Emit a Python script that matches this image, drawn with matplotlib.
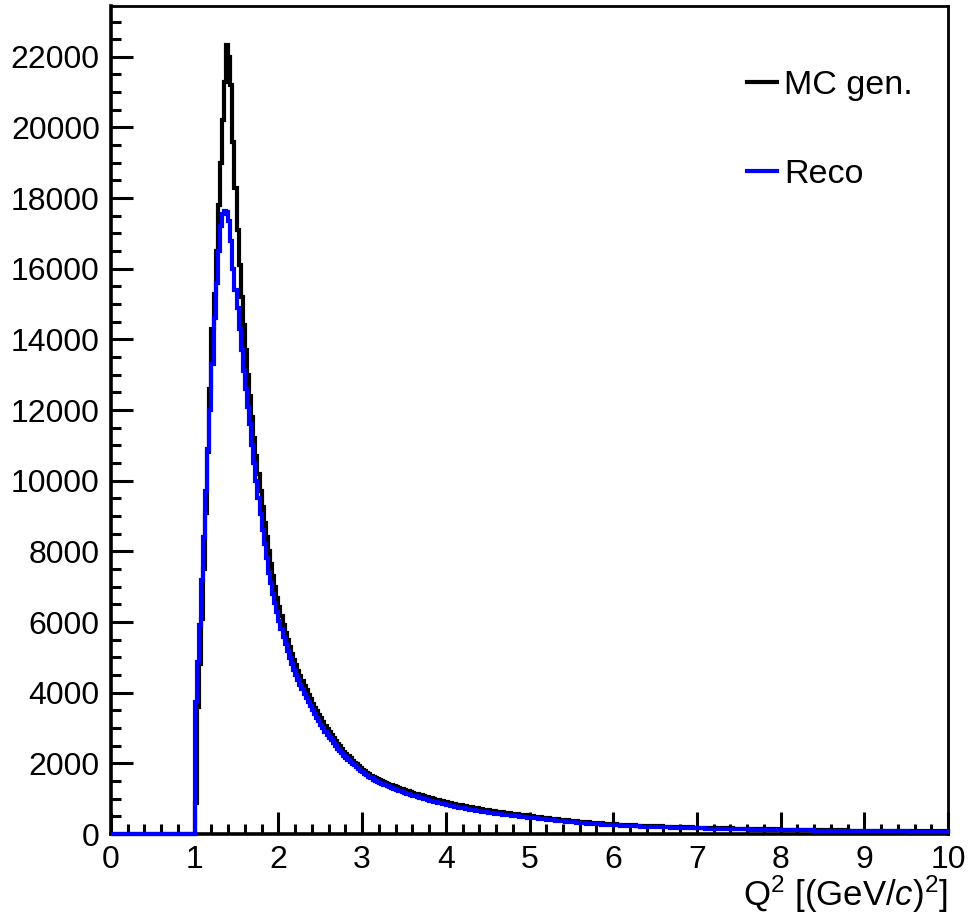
import numpy as np
import matplotlib
matplotlib.use("Agg")
import matplotlib.pyplot as plt
from matplotlib.ticker import MultipleLocator

plt.rcParams["font.family"] = ["Liberation Sans", "DejaVu Sans"]
plt.rcParams["mathtext.fontset"] = "custom"
plt.rcParams["mathtext.rm"] = "Liberation Sans"
plt.rcParams["mathtext.it"] = "Liberation Sans:italic"

# ── Histogram binning: Q2 in [0, 10], 0.025 wide, empty below Q2 = 1 ──
bin_w = 0.025
q2_edges = np.round(np.arange(0.0, 10.0 + bin_w / 2, bin_w), 3)
n_empty = 40                                   # bins with Q2 < 1

# MC generated, Q2 = 1.000 ... 9.975 (rows of 10 bins)
mc_gen = [
    880, 3600, 4800, 6100, 7500, 9100, 10800, 12600, 14300, 15300,
    16500, 17800, 19000, 20200, 21300, 22330, 22000, 21200, 19600, 18300,
    17100, 16100, 15200, 14400, 13700, 13000, 12400, 11800, 11200, 10700,
    10200, 9700, 9250, 8800, 8400, 8000, 7650, 7300, 6980, 6680,
    6420, 6170, 5930, 5700, 5480, 5280, 5100, 4930, 4770, 4620,
    4480, 4340, 4200, 4070, 3940, 3810, 3690, 3580, 3470, 3370,
    3270, 3170, 3070, 2980, 2890, 2800, 2720, 2640, 2560, 2490,
    2400, 2330, 2260, 2200, 2140, 2080, 2020, 1970, 1920, 1870,
    1825, 1780, 1735, 1693, 1653, 1615, 1585, 1556, 1528, 1502,
    1476, 1450, 1424, 1400, 1377, 1354, 1331, 1309, 1287, 1266,
    1245, 1224, 1204, 1184, 1165, 1146, 1128, 1110, 1094, 1080,
    1060, 1042, 1025, 1008, 992, 976, 960, 945, 930, 915,
    900, 885, 871, 857, 844, 831, 819, 807, 796, 785,
    774, 763, 752, 742, 732, 722, 712, 702, 693, 684,
    675, 665, 655, 645, 636, 627, 618, 610, 602, 594,
    584, 576, 568, 560, 553, 546, 539, 532, 525, 518,
    503, 496, 489, 482, 476, 470, 464, 458, 452, 446,
    436, 429, 422, 415, 408, 402, 396, 390, 384, 378,
    368, 363, 358, 353, 347, 342, 337, 332, 327, 323,
    316, 312, 308, 303, 299, 295, 291, 287, 283, 280,
    274, 270, 267, 264, 261, 258, 255, 252, 249, 246,
    243, 240, 238, 236, 234, 231, 229, 227, 225, 223,
    220, 218, 216, 214, 212, 210, 208, 206, 204, 202,
    199, 197, 195, 193, 191, 189, 187, 185, 184, 182,
    179, 177, 176, 174, 172, 171, 169, 168, 166, 165,
    163, 162, 161, 159, 158, 157, 156, 154, 153, 152,
    151, 150, 148, 147, 146, 145, 144, 143, 142, 141,
    140, 139, 138, 137, 136, 135, 134, 133, 132, 131,
    126, 125, 124, 123, 122, 120, 119, 118, 118, 117,
    116, 115, 114, 113, 112, 112, 111, 110, 109, 108,
    108, 107, 106, 105, 105, 104, 103, 102, 102, 101,
    100, 100, 99, 98, 98, 97, 96, 96, 95, 94,
    94, 93, 93, 92, 91, 91, 90, 90, 89, 88,
    88, 87, 87, 86, 86, 85, 85, 84, 84, 83,
    83, 82, 82, 81, 81, 80, 80, 79, 79, 78,
    78, 77, 77, 76, 76, 75, 75, 74, 74, 73,
]

# Reconstructed, same binning
reco = [
    3740, 4880, 5930, 7200, 8400, 9700, 10900, 12000, 13300, 14600,
    15600, 16500, 17200, 17550, 17650, 17600, 17350, 16800, 16000, 15400,
    14900, 14300, 13700, 13100, 12600, 12100, 11600, 11000, 10500, 10000,
    9500, 9050, 8600, 8200, 7800, 7400, 7100, 6800, 6550, 6280,
    6030, 5800, 5580, 5370, 5180, 4990, 4810, 4650, 4500, 4360,
    4230, 4100, 3970, 3850, 3730, 3610, 3500, 3390, 3290, 3190,
    3090, 3000, 2900, 2810, 2730, 2650, 2570, 2490, 2420, 2350,
    2280, 2220, 2160, 2100, 2040, 1990, 1940, 1890, 1840, 1795,
    1750, 1705, 1660, 1618, 1578, 1540, 1510, 1482, 1454, 1427,
    1400, 1374, 1348, 1323, 1299, 1276, 1253, 1230, 1208, 1186,
    1165, 1144, 1124, 1104, 1085, 1066, 1048, 1030, 1015, 1001,
    980, 962, 945, 928, 912, 896, 880, 865, 850, 836,
    822, 808, 795, 782, 770, 758, 746, 734, 723, 712,
    701, 690, 680, 670, 660, 650, 640, 631, 622, 613,
    604, 595, 586, 578, 570, 562, 554, 546, 538, 531,
    524, 517, 510, 503, 496, 489, 482, 475, 469, 463,
    457, 451, 445, 439, 433, 427, 421, 415, 410, 405,
    395, 388, 381, 374, 368, 362, 356, 350, 344, 338,
    332, 327, 322, 317, 312, 307, 302, 297, 293, 289,
    285, 281, 277, 273, 269, 265, 261, 257, 254, 251,
    248, 245, 242, 239, 236, 233, 230, 227, 224, 221,
    218, 216, 214, 211, 209, 207, 205, 203, 201, 199,
    197, 195, 193, 191, 189, 187, 185, 183, 181, 179,
    177, 175, 174, 172, 170, 169, 167, 165, 164, 162,
    161, 159, 158, 156, 155, 153, 152, 150, 149, 148,
    146, 145, 144, 142, 141, 140, 139, 137, 136, 135,
    134, 133, 131, 130, 129, 128, 127, 126, 125, 124,
    123, 122, 121, 120, 119, 118, 117, 116, 115, 114,
    113, 112, 111, 110, 109, 108, 107, 106, 106, 105,
    104, 103, 102, 101, 100, 100, 99, 98, 97, 96,
    96, 95, 94, 93, 93, 92, 91, 90, 90, 89,
    88, 88, 87, 86, 86, 85, 84, 84, 83, 82,
    82, 81, 81, 80, 79, 79, 78, 78, 77, 76,
    76, 75, 75, 74, 74, 73, 73, 72, 72, 71,
    71, 70, 70, 69, 69, 68, 68, 67, 67, 66,
    66, 65, 65, 64, 64, 63, 63, 62, 62, 61,
]

gen_counts = np.concatenate([np.zeros(n_empty), mc_gen])
reco_counts = np.concatenate([np.zeros(n_empty), reco])

# ── Plot ──
fig = plt.figure(figsize=(9.7, 9.18), dpi=100)
ax = fig.add_axes([0.1144, 0.0915, 0.8630, 0.902])

ax.stairs(gen_counts, q2_edges, color="black", linewidth=3.0,
          label="MC gen.", zorder=3, clip_on=False)
ax.stairs(reco_counts, q2_edges, color="#0000ff", linewidth=3.0,
          label="Reco", zorder=4, clip_on=False)

ax.set_xlim(0, 10)
ax.set_ylim(0, 23440)

ax.xaxis.set_major_locator(MultipleLocator(1))
ax.xaxis.set_minor_locator(MultipleLocator(0.2))
ax.yaxis.set_major_locator(MultipleLocator(2000))
ax.yaxis.set_minor_locator(MultipleLocator(500))
ax.tick_params(which="both", direction="in", top=False, right=False,
               width=2.2, labelsize=23, pad=8)
ax.tick_params(which="major", length=16)
ax.tick_params(which="minor", length=7.5)

for side in ["left", "bottom"]:
    ax.spines[side].set_linewidth(2.6)
for side in ["top", "right"]:
    ax.spines[side].set_linewidth(2.0)

ax.set_xlabel(r"Q$^2$ [(GeV/$c$)$^2$]", fontsize=25, loc="right", labelpad=-1)

ax.legend(loc="upper left", bbox_to_anchor=(0.744, 0.939), frameon=False,
          fontsize=24.5, handlelength=0.88, handletextpad=0.2,
          labelspacing=1.71, borderaxespad=0)

fig.savefig("out.png", dpi=100)
